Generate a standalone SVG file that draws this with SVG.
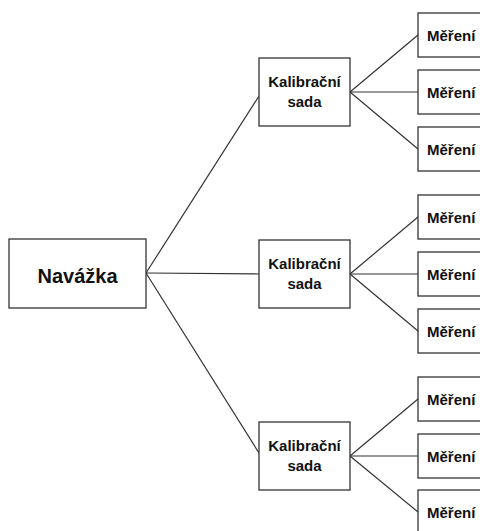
<svg xmlns="http://www.w3.org/2000/svg" width="480" height="531" viewBox="0 0 480 531">
<style>
rect{fill:#fff;stroke:#333;stroke-width:1.3}
line{stroke:#333;stroke-width:1.2}
text{font-family:"Liberation Sans",Arial,sans-serif;font-weight:bold;fill:#111;text-anchor:middle}
.n{font-size:20px}
.k{font-size:15px}
.m{font-size:15px;text-anchor:start}
</style>
<rect x="0" y="0" width="480" height="531" style="fill:#fff;stroke:none"/>
<g id="connectors">
<line x1="146" y1="273" x2="259" y2="96"/>
<line x1="146" y1="273" x2="259" y2="274"/>
<line x1="146" y1="273" x2="259" y2="453"/>
<line x1="350" y1="92" x2="418" y2="35"/>
<line x1="350" y1="92" x2="418" y2="92"/>
<line x1="350" y1="92" x2="418" y2="149"/>
<line x1="350" y1="274" x2="418" y2="217"/>
<line x1="350" y1="274" x2="418" y2="274"/>
<line x1="350" y1="274" x2="418" y2="331"/>
<line x1="350" y1="456" x2="418" y2="399"/>
<line x1="350" y1="456" x2="418" y2="456"/>
<line x1="350" y1="456" x2="418" y2="512"/>
</g>
<g id="navazka"><rect x="9" y="239" width="137" height="69"/><text class="n" x="77.5" y="283">Navážka</text></g>
<g id="kal1"><rect x="259" y="58" width="91" height="68"/><text class="k" x="304.5" y="87">Kalibrační</text><text class="k" x="304.5" y="107">sada</text></g>
<g id="kal2"><rect x="259" y="240" width="91" height="68"/><text class="k" x="304.5" y="269">Kalibrační</text><text class="k" x="304.5" y="289">sada</text></g>
<g id="kal3"><rect x="259" y="422" width="91" height="68"/><text class="k" x="304.5" y="451">Kalibrační</text><text class="k" x="304.5" y="471">sada</text></g>
<g id="m1"><rect x="418" y="13" width="66" height="44"/><text class="m" x="427" y="41">Měření</text></g>
<g id="m2"><rect x="418" y="70" width="66" height="44"/><text class="m" x="427" y="98">Měření</text></g>
<g id="m3"><rect x="418" y="127" width="66" height="44"/><text class="m" x="427" y="155">Měření</text></g>
<g id="m4"><rect x="418" y="195" width="66" height="44"/><text class="m" x="427" y="223">Měření</text></g>
<g id="m5"><rect x="418" y="252" width="66" height="44"/><text class="m" x="427" y="280">Měření</text></g>
<g id="m6"><rect x="418" y="309" width="66" height="44"/><text class="m" x="427" y="337">Měření</text></g>
<g id="m7"><rect x="418" y="377" width="66" height="44"/><text class="m" x="427" y="405">Měření</text></g>
<g id="m8"><rect x="418" y="434" width="66" height="44"/><text class="m" x="427" y="462">Měření</text></g>
<g id="m9"><rect x="418" y="490" width="66" height="44"/><text class="m" x="427" y="518">Měření</text></g>
</svg>
